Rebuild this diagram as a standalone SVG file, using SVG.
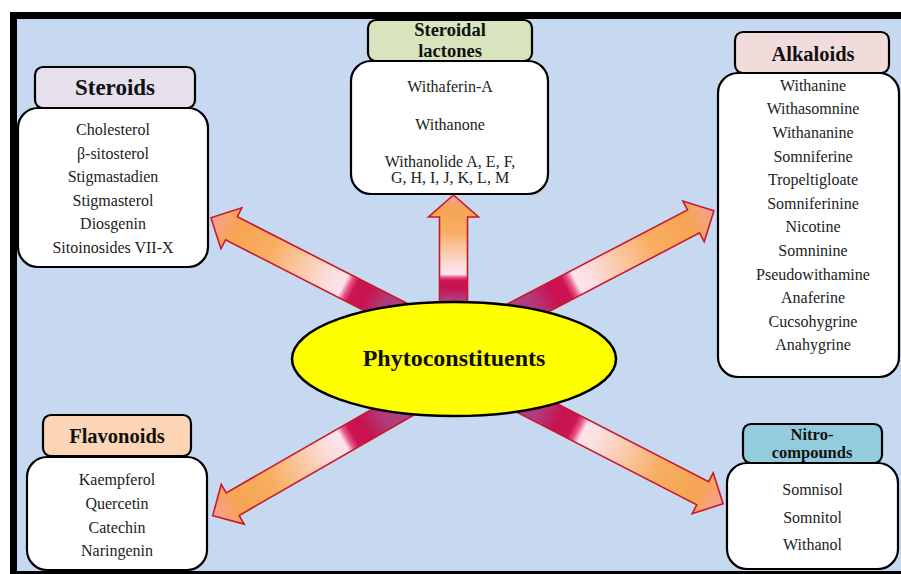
<svg xmlns="http://www.w3.org/2000/svg" width="901" height="574" viewBox="0 0 901 574">
<defs>
<linearGradient id="ag" x1="0" y1="0" x2="1" y2="0">
<stop offset="0" stop-color="#A84A86"/>
<stop offset="0.15" stop-color="#B23A78"/>
<stop offset="0.24" stop-color="#C8124F"/>
<stop offset="0.30" stop-color="#CC1452"/>
<stop offset="0.325" stop-color="#E8558A"/>
<stop offset="0.35" stop-color="#FCE4EC"/>
<stop offset="0.43" stop-color="#FBDCDA"/>
<stop offset="0.70" stop-color="#F8AE62"/>
<stop offset="0.88" stop-color="#F6A552"/>
<stop offset="1" stop-color="#F5A096"/>
</linearGradient>
<style>
.hd{stroke:#000;stroke-width:2.2}
.bd{fill:#fff;stroke:#000;stroke-width:2.2}
.ht{font-family:"Liberation Serif","Times New Roman",serif;font-weight:bold;fill:#111;text-anchor:middle}
.it{font-family:"Liberation Serif","Times New Roman",serif;font-size:16px;fill:#222;text-anchor:middle}
.ar{fill:url(#ag);stroke:#C8182A;stroke-width:1.6;stroke-linejoin:miter}
</style>
</defs>
<rect x="0" y="0" width="901" height="574" fill="#fff"/>
<rect x="10" y="12" width="891" height="562" fill="#000"/>
<rect x="17" y="19" width="884" height="552" fill="#C6D9F1"/>

<g id="connectors">
<polygon class="ar" transform="translate(453.5,317) rotate(-90)" points="0,-14 100,-14 100,-25 122,0 100,25 100,14 0,14"/>
<polygon class="ar" transform="translate(414,321.5) rotate(-152.96)" points="0,-13 205,-13 205,-23 228,0 205,23 205,13 0,13"/>
<polygon class="ar" transform="translate(503,321) rotate(-27.6)" points="0,-13 215,-13 215,-23 238,0 215,23 215,13 0,13"/>
<polygon class="ar" transform="translate(413,400.5) rotate(150.1)" points="0,-13 208,-13 208,-23 231,0 208,23 208,13 0,13"/>
<polygon class="ar" transform="translate(508,393) rotate(27.25)" points="0,-13 219,-13 219,-23 242,0 219,23 219,13 0,13"/>
</g>

<g id="center">
<ellipse cx="454" cy="359" rx="162" ry="57" fill="#FFFF00" stroke="#000" stroke-width="2.5"/>
<text class="ht" x="454" y="366" font-size="24">Phytoconstituents</text>
</g>

<g id="steroids">
<rect class="bd" x="18" y="108" width="190" height="159" rx="20"/>
<rect class="hd" x="35" y="67" width="160" height="41" rx="8" fill="#E5E0EC"/>
<text class="ht" x="115" y="95" font-size="23">Steroids</text>
<text class="it" x="113" y="135">Cholesterol</text>
<text class="it" x="113" y="158.5">β-sitosterol</text>
<text class="it" x="113" y="182">Stigmastadien</text>
<text class="it" x="113" y="205.5">Stigmasterol</text>
<text class="it" x="113" y="229">Diosgenin</text>
<text class="it" x="113" y="252.5">Sitoinosides VII-X</text>
</g>

<g id="steroidal-lactones">
<rect class="bd" x="351" y="61" width="197" height="133" rx="20"/>
<rect class="hd" x="368" y="20" width="164" height="41" rx="8" fill="#D7E4BD"/>
<text class="ht" x="450" y="36" font-size="18.5">Steroidal</text>
<text class="ht" x="450" y="57" font-size="18.5">lactones</text>
<text class="it" x="450" y="92">Withaferin-A</text>
<text class="it" x="450" y="130">Withanone</text>
<text class="it" x="450" y="166.5">Withanolide A, E, F,</text>
<text class="it" x="450" y="182.5">G, H, I, J, K, L, M</text>
</g>

<g id="alkaloids">
<rect class="bd" x="718" y="73" width="181" height="304" rx="20"/>
<rect class="hd" x="735" y="32" width="154" height="41" rx="8" fill="#F2DCDB"/>
<text class="ht" x="813" y="61" font-size="20.5">Alkaloids</text>
<text class="it" x="813" y="90.7">Withanine</text>
<text class="it" x="813" y="114.3">Withasomnine</text>
<text class="it" x="813" y="137.9">Withananine</text>
<text class="it" x="813" y="161.5">Somniferine</text>
<text class="it" x="813" y="185.1">Tropeltigloate</text>
<text class="it" x="813" y="208.7">Somniferinine</text>
<text class="it" x="813" y="232.3">Nicotine</text>
<text class="it" x="813" y="255.9">Somninine</text>
<text class="it" x="813" y="279.5">Pseudowithamine</text>
<text class="it" x="813" y="303.1">Anaferine</text>
<text class="it" x="813" y="326.7">Cucsohygrine</text>
<text class="it" x="813" y="350.3">Anahygrine</text>
</g>

<g id="flavonoids">
<rect class="bd" x="27" y="457" width="180" height="113" rx="20"/>
<rect class="hd" x="43" y="415" width="148" height="41" rx="8" fill="#FBD5B5"/>
<text class="ht" x="117" y="443" font-size="20.5">Flavonoids</text>
<text class="it" x="117" y="485">Kaempferol</text>
<text class="it" x="117" y="509">Quercetin</text>
<text class="it" x="117" y="532.5">Catechin</text>
<text class="it" x="117" y="556">Naringenin</text>
</g>

<g id="nitro-compounds">
<rect class="bd" x="727" y="463" width="171" height="106" rx="20"/>
<rect class="hd" x="743" y="424" width="139" height="39" rx="8" fill="#93CDDD"/>
<text class="ht" x="812" y="439.5" font-size="16.5">Nitro-</text>
<text class="ht" x="812" y="458" font-size="16.5">compounds</text>
<text class="it" x="812.5" y="495">Somnisol</text>
<text class="it" x="812.5" y="522.5">Somnitol</text>
<text class="it" x="812.5" y="550">Withanol</text>
</g>
</svg>
